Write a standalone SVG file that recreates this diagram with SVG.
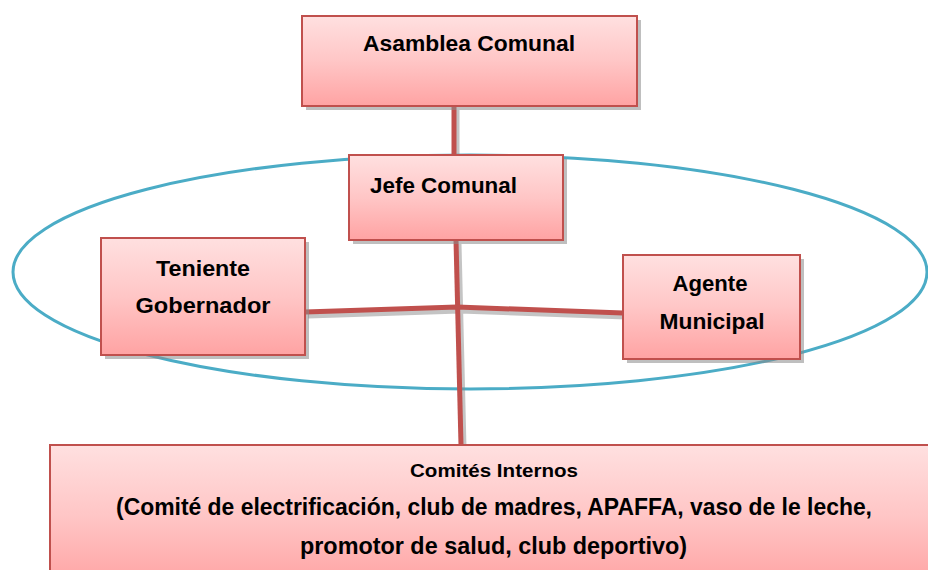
<svg xmlns="http://www.w3.org/2000/svg" width="928" height="570" viewBox="0 0 928 570">
  <defs>
    <linearGradient id="g" x1="0" y1="0" x2="0" y2="1">
      <stop offset="0" stop-color="#FFE0E0"/>
      <stop offset="0.5" stop-color="#FFC6C6"/>
      <stop offset="1" stop-color="#FFA3A3"/>
    </linearGradient>
  </defs>
  <style>
    .box { fill: url(#g); stroke: #C0504D; stroke-width: 2; }
    .shadow { fill: #8A8A8A; opacity: 0.55; }
    .t { font-family: "Liberation Sans", Arial, sans-serif; font-weight: bold; font-size: 22px; fill: #000; text-anchor: middle; }
    .b { font-size: 23px; }
    .s { font-size: 18.5px; }
    .c { fill: none; stroke: #C0504D; stroke-width: 5; }
    .cs { fill: none; stroke: #8A8A8A; stroke-width: 5; opacity: 0.5; }
    .ell { fill: none; stroke: #4BACC6; stroke-width: 3; }
  </style>
  <rect width="928" height="570" fill="#fff"/>
  <ellipse class="ell" cx="470" cy="272" rx="457" ry="117"/>
  <g id="connectors">
    <path class="cs" d="M457 110 L457 158 M459 244 L464 448 M308 316 L460 311 L626 317"/>
    <path class="c" d="M454 106 L454 155"/>
    <path class="c" d="M456 240 L461 445"/>
    <path class="c" d="M305 312 L457 307 L623 313"/>
  </g>
  <g id="asamblea">
    <rect class="shadow" x="306" y="20" width="335" height="90"/>
    <rect class="box" x="302" y="16" width="335" height="90"/>
    <text class="t" x="469" y="51" textLength="212" lengthAdjust="spacingAndGlyphs">Asamblea Comunal</text>
  </g>
  <g id="jefe">
    <rect class="shadow" x="353" y="159" width="214" height="85"/>
    <rect class="box" x="349" y="155" width="214" height="85"/>
    <text class="t" x="443.5" y="193" textLength="147" lengthAdjust="spacingAndGlyphs">Jefe Comunal</text>
  </g>
  <g id="teniente">
    <rect class="shadow" x="105" y="242" width="204" height="117"/>
    <rect class="box" x="101" y="238" width="204" height="117"/>
    <text class="t" x="203" y="276" textLength="94" lengthAdjust="spacingAndGlyphs">Teniente</text>
    <text class="t" x="203" y="313" textLength="135" lengthAdjust="spacingAndGlyphs">Gobernador</text>
  </g>
  <g id="agente">
    <rect class="shadow" x="627" y="259" width="177" height="104"/>
    <rect class="box" x="623" y="255" width="177" height="104"/>
    <text class="t" x="710" y="291" textLength="75" lengthAdjust="spacingAndGlyphs">Agente</text>
    <text class="t" x="712" y="329" textLength="105" lengthAdjust="spacingAndGlyphs">Municipal</text>
  </g>
  <g id="comites">
    <rect class="box" x="50" y="445" width="890" height="140"/>
    <text class="t s" x="494" y="477" textLength="168" lengthAdjust="spacingAndGlyphs">Comités Internos</text>
    <text class="t b" x="494" y="515" textLength="756" lengthAdjust="spacingAndGlyphs">(Comité de electrificación, club de madres, APAFFA, vaso de le leche,</text>
    <text class="t b" x="493.5" y="554" textLength="387" lengthAdjust="spacingAndGlyphs">promotor de salud, club deportivo)</text>
  </g>
</svg>
